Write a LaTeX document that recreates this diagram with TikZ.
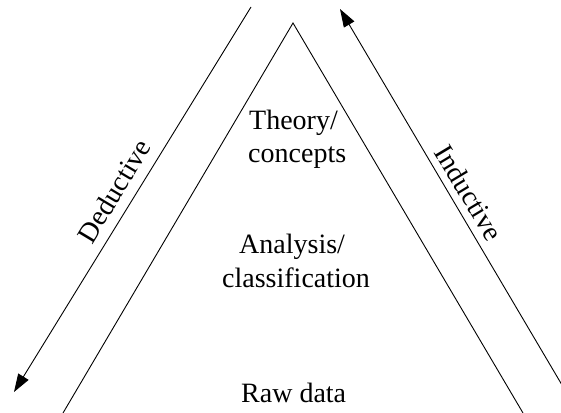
\documentclass[tikz,border=0pt]{standalone}
\usepackage{fontspec}
\setmainfont{Liberation Serif}
\usetikzlibrary{arrows.meta}
\begin{document}
\begin{tikzpicture}[x=1pt,y=-1pt,
  txt/.style={font=\fontsize{28}{32}\selectfont, inner sep=0pt, anchor=base west},
  side/.style={font=\fontsize{28}{32}\selectfont, inner sep=0pt},
  flow/.style={line width=0.9pt, -{Triangle[length=18pt,width=12pt]}},
  leg/.style={line width=0.9pt}]
\useasboundingbox (0,0) rectangle (561,412);
% pyramid
\coordinate (bl) at (63,413);
\coordinate (apex) at (293,23);
\coordinate (br) at (523,413);
\draw[leg] (bl) -- (apex) -- (br);
% arrows
\coordinate (dtop) at (251,7);
\coordinate (dend) at (14,392);
\coordinate (ibot) at (562,385);
\coordinate (iend) at (340,9);
\draw[flow] (dtop) -- (dend);
\draw[flow] (ibot) -- (iend);
% labels
\node[txt] (t1) at (249,129) {Theory/};
\node[txt] (t2) at (248,162) {concepts};
\node[txt] (a1) at (239,253) {Analysis/};
\node[txt] (a2) at (222,287) {classification};
\node[txt] (r1) at (241,402) {Raw data};
\node[side, rotate=59] (ded) at (114,191) {Deductive};
\node[side, rotate=-59] (ind) at (469,193) {Inductive};
\end{tikzpicture}
\end{document}
